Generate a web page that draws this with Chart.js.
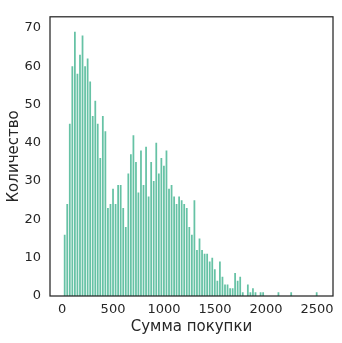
<!DOCTYPE html>
<html><head><meta charset="utf-8">
<script src="https://cdn.jsdelivr.net/npm/chart.js@4/dist/chart.umd.min.js"></script>
<style>html,body{margin:0;padding:0;background:#fff}#c{display:block}</style>
</head><body>
<canvas id="c" width="342" height="343"></canvas>
<script>
// bin centres (purchase amount)
const binCenters = [26,51,76,101,126,151,176,201,226,251,276,301,326,350,375,400,425,450,475,500,
525,550,575,600,625,650,675,700,725,749,774,799,824,849,874,899,924,949,974,999,
1024,1049,1074,1099,1123,1148,1173,1198,1223,1248,1273,1298,1323,1348,1373,1398,1423,1448,1473,1498,
1523,1548,1573,1598,1623,1648,1673,1697,1722,1747,1772,1797,1822,1847,1872,1897,1922,1947,1972,1997,
2022,2047,2072,2097,2122,2147,2172,2197,2222,2247,2272,2297,2322,2347,2372,2397,2422,2447,2472,2497];
// counts per bin
const counts = [16,24,45,60,69,58,63,68,60,62,56,47,51,45,36,47,43,23,24,28,
24,29,29,23,18,32,37,42,35,27,38,29,39,26,35,30,40,32,36,34,
38,28,29,26,24,26,25,24,23,18,16,25,12,15,12,11,11,9,10,7,
4,9,5,3,3,2,2,6,4,5,1,0,3,1,2,1,0,1,1,0,
0,0,0,0,1,0,0,0,0,1,0,0,0,0,0,0,0,0,0,1];
const xTicks = [0,500,1000,1500,2000,2500];
const yTicks = [0,10,20,30,40,50,60,70];
const xTitle = 'Сумма покупки';
const yTitle = 'Количество';

const frame = {
  id:'frame',
  afterDatasetsDraw(chart){
    const a = chart.chartArea, ctx = chart.ctx;
    ctx.save(); ctx.strokeStyle='#262626'; ctx.lineWidth=1.25;
    ctx.strokeRect(a.left, a.top, a.right-a.left, a.bottom-a.top);
    ctx.restore();
  }
};
const font = {family:'DejaVu Sans', size:13};
new Chart(document.getElementById('c'), {
  type:'bar',
  data:{datasets:[{
    data: binCenters.map((x,i)=>({x, y:counts[i]})),
    backgroundColor:'#66c2a5', borderWidth:0,
    barPercentage:0.72, categoryPercentage:1
  }]},
  options:{
    responsive:false, animation:false,
    layout:{padding:{top:5,right:9,left:0,bottom:0}},
    plugins:{legend:{display:false},tooltip:{enabled:false}},
    scales:{
      x:{type:'linear', min:-118, max:2657, offset:false,
        grid:{display:false, drawTicks:false, offset:false}, border:{display:false},
        afterBuildTicks(s){ s.ticks = xTicks.map(v=>({value:v})); },
        afterFit(s){ s.height = 47; },
        ticks:{font, color:'#262626', padding:6, maxRotation:0, autoSkip:false, callback:v=>String(v)},
        title:{display:true, text:xTitle, font:{family:'DejaVu Sans', size:15}, color:'#262626', padding:{top:0,bottom:7}}
      },
      y:{min:0, max:72.9,
        grid:{display:false, drawTicks:false}, border:{display:false},
        afterBuildTicks(s){ s.ticks = yTicks.map(v=>({value:v})); },
        afterFit(s){ s.width = 50; },
        ticks:{font, color:'#262626', padding:9, autoSkip:false, callback:v=>String(v)},
        title:{display:true, text:yTitle, font:{family:'DejaVu Sans', size:15}, color:'#262626', padding:{top:5,bottom:0}}
      }
    }
  },
  plugins:[frame]
});
</script>
</body></html>
